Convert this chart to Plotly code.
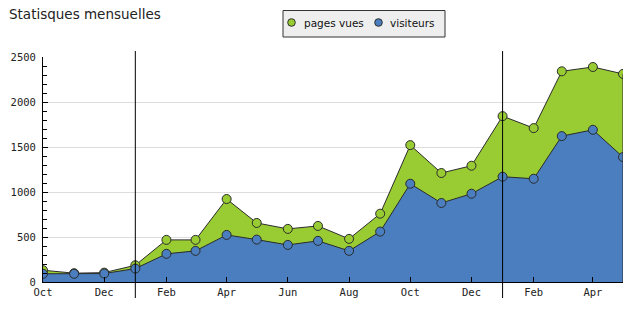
import plotly.graph_objects as go

# Monthly statistics, Oct 2011 - May 2013
months = [
    "2011-10-01", "2011-11-01", "2011-12-01",
    "2012-01-01", "2012-02-01", "2012-03-01", "2012-04-01", "2012-05-01", "2012-06-01",
    "2012-07-01", "2012-08-01", "2012-09-01", "2012-10-01", "2012-11-01", "2012-12-01",
    "2013-01-01", "2013-02-01", "2013-03-01", "2013-04-01", "2013-05-01",
]
pages_vues = [131, 98, 104, 186, 468, 468, 922, 656, 590, 623, 479, 759,
              1521, 1211, 1292, 1843, 1710, 2341, 2389, 2312]
visiteurs = [91, 91, 94, 149, 313, 346, 523, 471, 412, 457, 346, 560,
             1092, 878, 981, 1170, 1147, 1621, 1691, 1388]
year_starts = ["2012-01-01", "2013-01-01"]

GREEN = "#99cc33"
BLUE = "#4a7ebf"
EDGE = "#2b2b2b"

W, H = 637, 325
L, R, T, B = 43, 623, 57, 282


def px(x):
    return (x - L) / (R - L)


def py(y):
    return (B - y) / (B - T)


fig = go.Figure()
for name, vals, col in [("pages vues", pages_vues, GREEN), ("visiteurs", visiteurs, BLUE)]:
    fig.add_trace(go.Scatter(
        x=months, y=vals, name=name, mode="lines+markers",
        fill="tozeroy", fillcolor=col,
        line=dict(color=EDGE, width=1),
        marker=dict(size=9, color=col, line=dict(color=EDGE, width=1)),
        showlegend=False, hoverinfo="x+y",
    ))

shapes = []
# year separators
for d in year_starts:
    shapes.append(dict(type="line", xref="x", yref="paper", x0=d, x1=d,
                       y0=py(298), y1=py(51), line=dict(color="black", width=1),
                       layer="above"))
# closing edge of the filled area at the last month
shapes.append(dict(type="line", xref="x", yref="y", x0=months[-1], x1=months[-1],
                   y0=0, y1=pages_vues[-1], line=dict(color=EDGE, width=1), layer="above"))

# legend box
shapes.append(dict(type="rect", xref="paper", yref="paper",
                   x0=px(283), x1=px(445), y0=py(37), y1=py(10.5),
                   fillcolor="#eeeeee", line=dict(color="#333333", width=1)))
annotations = []
for cx, tx, label, col in [(291.5, 302, "pages vues", GREEN), (378.5, 388, "visiteurs", BLUE)]:
    shapes.append(dict(type="circle", xref="paper", yref="paper",
                       xsizemode="pixel", ysizemode="pixel",
                       xanchor=px(cx), yanchor=py(22.5),
                       x0=-3.8, x1=3.8, y0=-3.8, y1=3.8,
                       fillcolor=col, line=dict(color=EDGE, width=1)))
    annotations.append(dict(text=label, xref="paper", yref="paper", x=px(tx), y=py(22.5),
                            xanchor="left", yanchor="middle", showarrow=False,
                            font=dict(family="DejaVu Sans", size=10.5, color="#111111")))

# chart title
annotations.append(dict(text="Statisques mensuelles", xref="paper", yref="paper",
                        x=px(7), y=py(4), xanchor="left", yanchor="top", showarrow=False,
                        font=dict(family="DejaVu Sans", size=13.5, color="#222222")))

tickfont = dict(family="DejaVu Sans Mono", size=10.5, color="#222222")
fig.update_layout(
    width=W, height=H,
    margin=dict(l=L, r=W - R, t=T, b=H - B, pad=0),
    paper_bgcolor="white", plot_bgcolor="white",
    shapes=shapes, annotations=annotations,
    xaxis=dict(type="date", range=[months[0], months[-1]],
               tick0=months[0], dtick="M2", tickformat="%b",
               ticks="inside", ticklen=5, tickcolor="black",
               showline=True, linecolor="black", linewidth=1,
               showgrid=False, zeroline=False, tickfont=tickfont),
    yaxis=dict(range=[0, 2500], dtick=500, ticks="inside", ticklen=5, tickcolor="black",
               minor=dict(dtick=100, ticks="inside", ticklen=4, tickcolor="black", showgrid=False),
               showline=True, linecolor="black", linewidth=1,
               showgrid=True, gridcolor="#dddddd", gridwidth=1, zeroline=False,
               tickfont=tickfont, ticklabelstandoff=4),
)

fig.write_html("out.html")
